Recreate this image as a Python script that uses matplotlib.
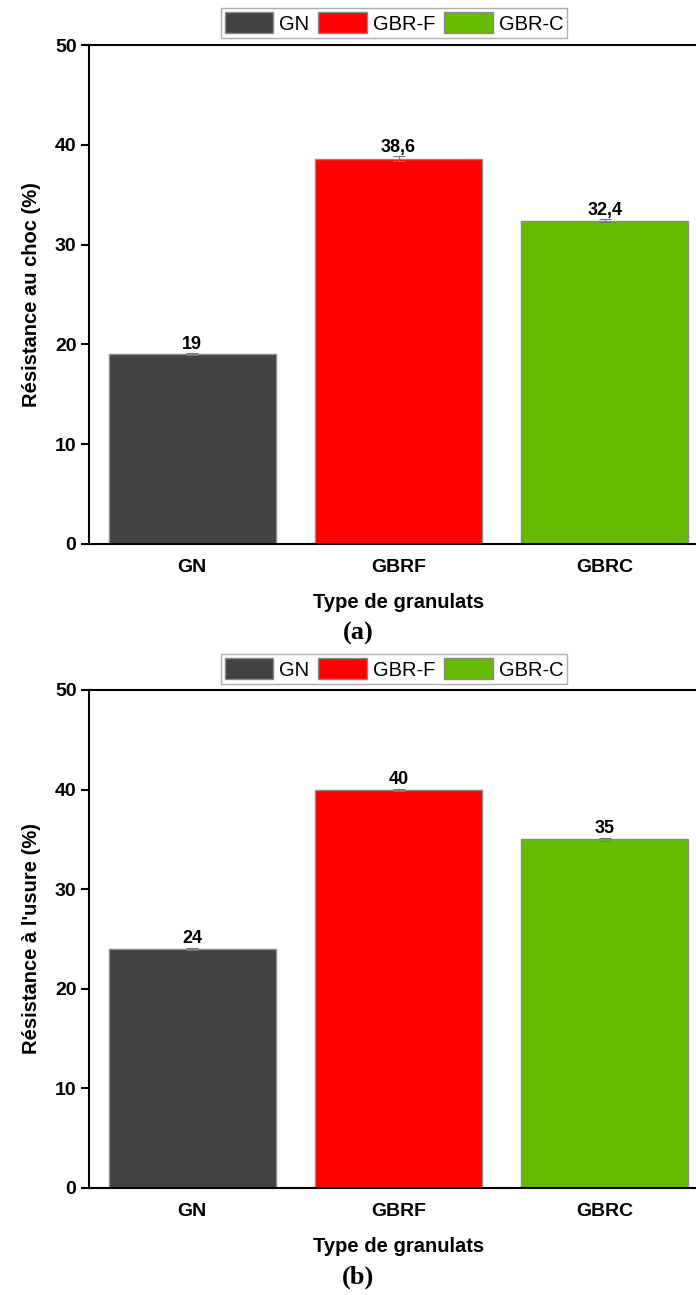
import matplotlib
matplotlib.use("Agg")
import matplotlib.pyplot as plt
from matplotlib.patches import Patch

plt.rcParams['font.family'] = ['Liberation Sans', 'DejaVu Sans']

categories = ["GN", "GBRF", "GBRC"]
legend_names = ["GN", "GBR-F", "GBR-C"]
colors = ["#424242", "#ff0000", "#66bb00"]

choc_values = [19, 38.6, 32.4]
choc_labels = ["19", "38,6", "32,4"]
choc_err = [0.1, 0.25, 0.15]

usure_values = [24, 40, 35]
usure_labels = ["24", "40", "35"]
usure_err = [0.1, 0.1, 0.15]

yticks = [0, 10, 20, 30, 40, 50]

fig = plt.figure(figsize=(6.96, 12.95), dpi=100)
W, H = 696, 1295


def panel(top_px, bottom_px, values, labels, errs, ylabel, tag, tag_y, legend_y):
    ax = fig.add_axes([89 / W, 1 - bottom_px / H, 619 / W, (bottom_px - top_px) / H])
    x = range(len(categories))
    ax.bar(x, values, width=0.81, color=colors, edgecolor="#8a8a8a", linewidth=1.0,
           yerr=errs, error_kw=dict(ecolor="#777777", elinewidth=0.8, capsize=4, capthick=0.8))
    for xi, v, lab, e in zip(x, values, labels, errs):
        ax.text(xi, v + e + 0.05, lab, ha="center", va="bottom", fontsize=13, fontweight="bold")
    ax.set_xlim(-0.5, 2.5)
    ax.set_ylim(0, 50)
    ax.set_yticks(yticks)
    ax.set_xticks(list(x))
    ax.set_xticklabels(categories, fontsize=14, fontweight="bold")
    ax.tick_params(axis="x", length=0, pad=11)
    ax.tick_params(axis="y", length=6, width=1.5, labelsize=14, pad=3)
    for lab in ax.get_yticklabels():
        lab.set_fontweight("bold")
    for s in ["left", "bottom", "top"]:
        ax.spines[s].set_linewidth(1.5)
    ax.spines["right"].set_visible(False)
    ax.set_ylabel(ylabel, fontsize=14.5, fontweight="bold", labelpad=10)
    ax.set_xlabel("Type de granulats", fontsize=14.5, fontweight="bold", labelpad=12)
    handles = [Patch(facecolor=c, edgecolor="#8a8a8a") for c in colors]
    fig.legend(handles, legend_names, loc="center", bbox_to_anchor=(394 / W, 1 - legend_y / H),
               ncol=3, fontsize=14.5, frameon=True, fancybox=False, edgecolor="#999999",
               handlelength=2.4, handleheight=1.2, handletextpad=0.3, columnspacing=0.45,
               borderpad=0.2, borderaxespad=0)
    fig.text(358 / W, 1 - tag_y / H, tag, ha="center", va="center", fontsize=19,
             fontweight="bold", family=["Liberation Serif", "DejaVu Serif"])
    return ax


panel(45, 544, choc_values, choc_labels, choc_err, "Résistance au choc (%)", "(a)", 633, 23)
panel(690, 1188, usure_values, usure_labels, usure_err, "Résistance à l'usure (%)", "(b)", 1277, 669)

fig.savefig("out.png", dpi=100)
